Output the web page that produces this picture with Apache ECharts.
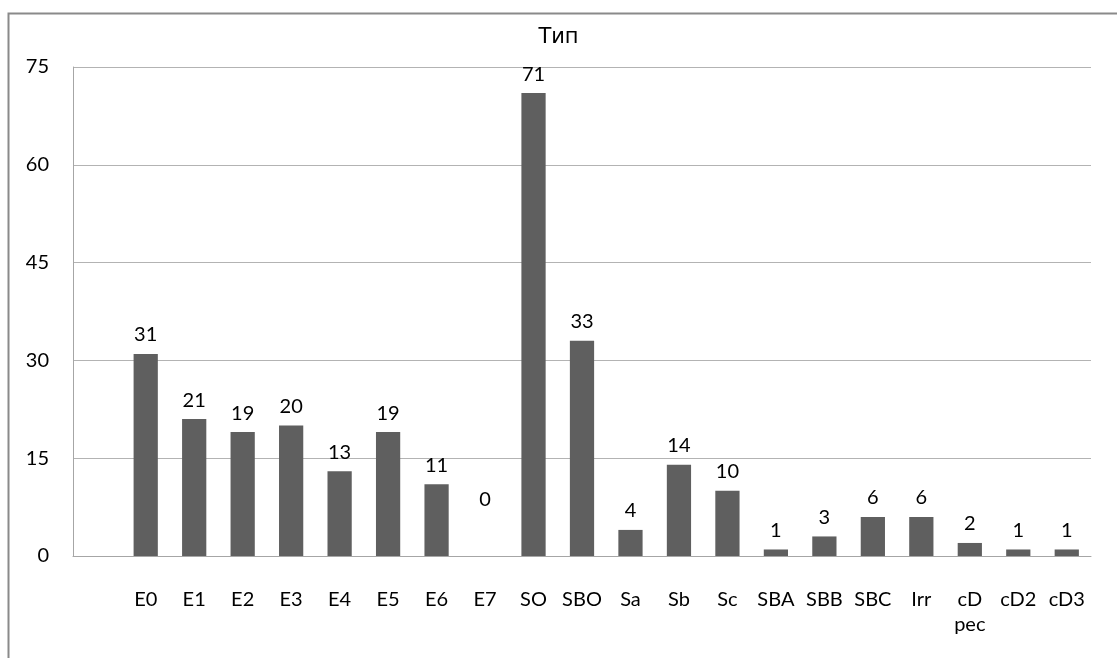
<!DOCTYPE html>
<html>
<head>
<meta charset="utf-8">
<script src="https://cdn.jsdelivr.net/npm/echarts@6/dist/echarts.min.js"></script>
<style>html,body{margin:0;padding:0;background:#fff}#c{width:1117px;height:658px}</style>
</head>
<body>
<div id="c"></div>
<script>
const categories = ['', 'E0', 'E1', 'E2', 'E3', 'E4', 'E5', 'E6', 'E7', 'SO', 'SBO', 'Sa', 'Sb', 'Sc', 'SBA', 'SBB', 'SBC', 'Irr', 'cD pec', 'cD2', 'cD3'];
const values = [null, 31, 21, 19, 20, 13, 19, 11, 0, 71, 33, 4, 14, 10, 1, 3, 6, 6, 2, 1, 1];
const yTicks = { min: 0, max: 75, interval: 15 };
const titleText = 'Тип';

const FONT = 'Lato';
const chart = echarts.init(document.getElementById('c'), null, { renderer: 'canvas' });
chart.setOption({
  animation: false,
  backgroundColor: '#fff',
  title: {
    text: titleText, left: 'center', top: 22,
    textStyle: { fontFamily: 'DejaVu Sans', fontSize: 21, fontWeight: 'normal', color: '#000' }
  },
  graphic: [{
    type: 'rect', left: 6, top: 11, silent: true,
    shape: { width: 1200, height: 700 },
    style: { fill: 'none', stroke: '#8a8a8a', lineWidth: 2 }
  }],
  grid: { left: 73, right: 26, top: 67, bottom: 102 },
  xAxis: {
    type: 'category', data: categories,
    axisLine: { show: true, lineStyle: { color: '#a6a6a6', width: 1 } },
    axisTick: { show: false },
    axisLabel: {
      interval: 0, margin: 31, color: '#000', fontFamily: FONT, fontSize: 20, lineHeight: 25,
      formatter: v => v.replace(' ', '\n')
    }
  },
  yAxis: {
    type: 'value', min: yTicks.min, max: yTicks.max, interval: yTicks.interval,
    axisLine: { show: true, lineStyle: { color: '#a6a6a6', width: 1 } },
    axisTick: { show: false },
    splitLine: { lineStyle: { color: '#b3b3b3', width: 1 } },
    axisLabel: { margin: 24, color: '#000', fontFamily: FONT, fontSize: 20 }
  },
  series: [{
    type: 'bar', barWidth: '50%',
    data: values.map(v => v === 0
      ? { value: v, label: { distance: 46 } }
      : v),
    itemStyle: { color: '#5f5f5f' },
    label: {
      show: true, position: 'top', distance: 9, color: '#000',
      fontFamily: FONT, fontSize: 20
    }
  }]
});
</script>
</body>
</html>
